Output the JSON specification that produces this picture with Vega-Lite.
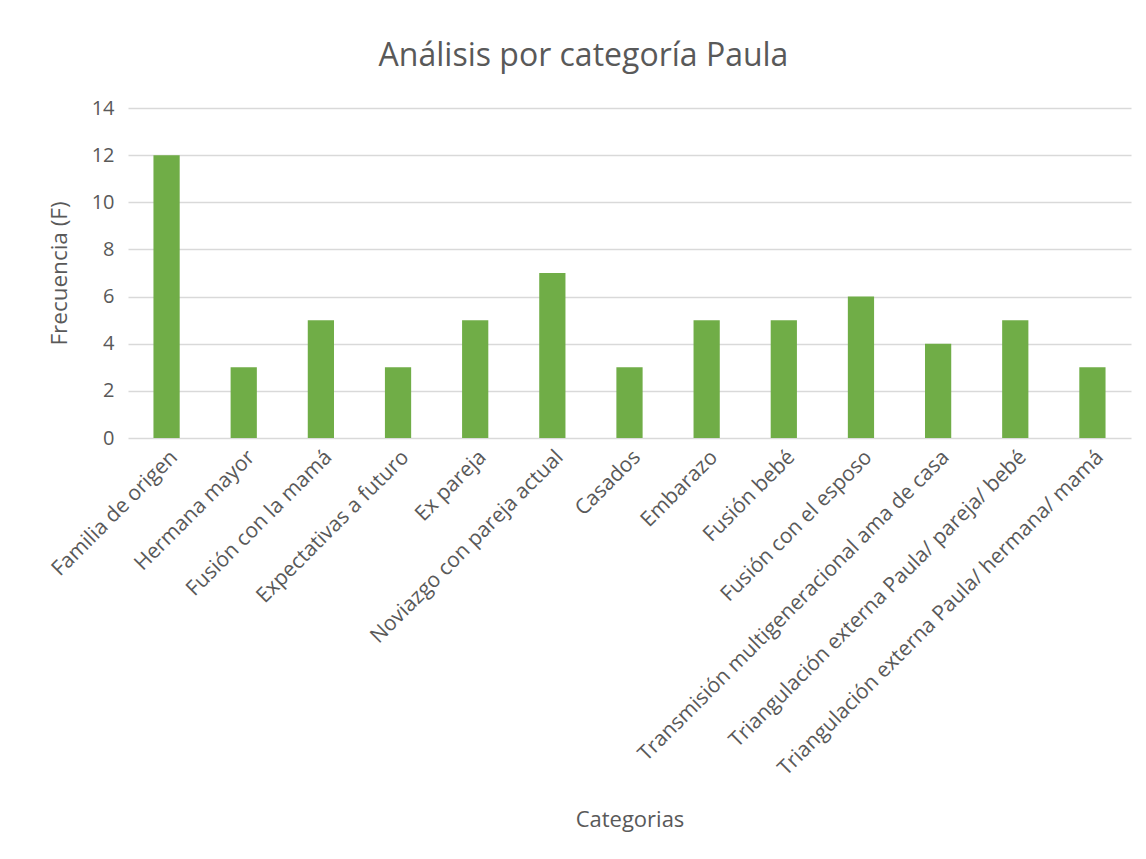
{
  "$schema": "https://vega.github.io/schema/vega-lite/v6.json",
  "autosize": {"type": "none"},
  "padding": {"left": 128, "top": 108, "right": 15, "bottom": 422},
  "width": 1003,
  "height": 330,
  "background": "white",
  "title": {
    "text": "Análisis por categoría Paula",
    "font": "Open Sans",
    "fontSize": 32,
    "fontWeight": "normal",
    "color": "#595959",
    "anchor": "middle",
    "dx": -46,
    "offset": 25
  },
  "data": {
    "values": [
      {"categoria": "Familia de origen", "frecuencia": 12},
      {"categoria": "Hermana mayor", "frecuencia": 3},
      {"categoria": "Fusión con la mamá", "frecuencia": 5},
      {"categoria": "Expectativas a futuro", "frecuencia": 3},
      {"categoria": "Ex pareja", "frecuencia": 5},
      {"categoria": "Noviazgo con pareja actual", "frecuencia": 7},
      {"categoria": "Casados", "frecuencia": 3},
      {"categoria": "Embarazo", "frecuencia": 5},
      {"categoria": "Fusión bebé", "frecuencia": 5},
      {"categoria": "Fusión con el esposo", "frecuencia": 6},
      {"categoria": "Transmisión multigeneracional ama de casa", "frecuencia": 4},
      {"categoria": "Triangulación externa Paula/ pareja/ bebé", "frecuencia": 5},
      {"categoria": "Triangulación externa Paula/ hermana/ mamá", "frecuencia": 3}
    ]
  },
  "mark": {"type": "bar", "color": "#70AD47"},
  "encoding": {
    "x": {
      "field": "categoria",
      "type": "nominal",
      "sort": null,
      "scale": {"paddingInner": 0.66, "paddingOuter": 0.33},
      "axis": {
        "title": "Categorias",
        "titleFont": "Open Sans",
        "titleFontSize": 22,
        "titleFontWeight": "normal",
        "titleColor": "#595959",
        "titleBaseline": "alphabetic",
        "titleY": 388,
        "labelAngle": -45,
        "labelFont": "Open Sans",
        "labelFontSize": 21,
        "labelColor": "#595959",
        "labelPadding": 8,
        "labelLimit": 600,
        "ticks": false,
        "domain": false
      }
    },
    "y": {
      "field": "frecuencia",
      "type": "quantitative",
      "scale": {"domain": [0, 14]},
      "axis": {
        "title": "Frecuencia (F)",
        "titleFont": "Open Sans",
        "titleFontSize": 22.5,
        "titleFontWeight": "normal",
        "titleColor": "#595959",
        "titlePadding": 20,
        "values": [0, 2, 4, 6, 8, 10, 12, 14],
        "labelFont": "Open Sans",
        "labelFontSize": 20,
        "labelColor": "#595959",
        "labelPadding": 14,
        "ticks": false,
        "domain": false,
        "grid": true,
        "gridColor": "#D9D9D9",
        "gridWidth": 1.3
      }
    }
  },
  "config": {"view": {"stroke": null}}
}
